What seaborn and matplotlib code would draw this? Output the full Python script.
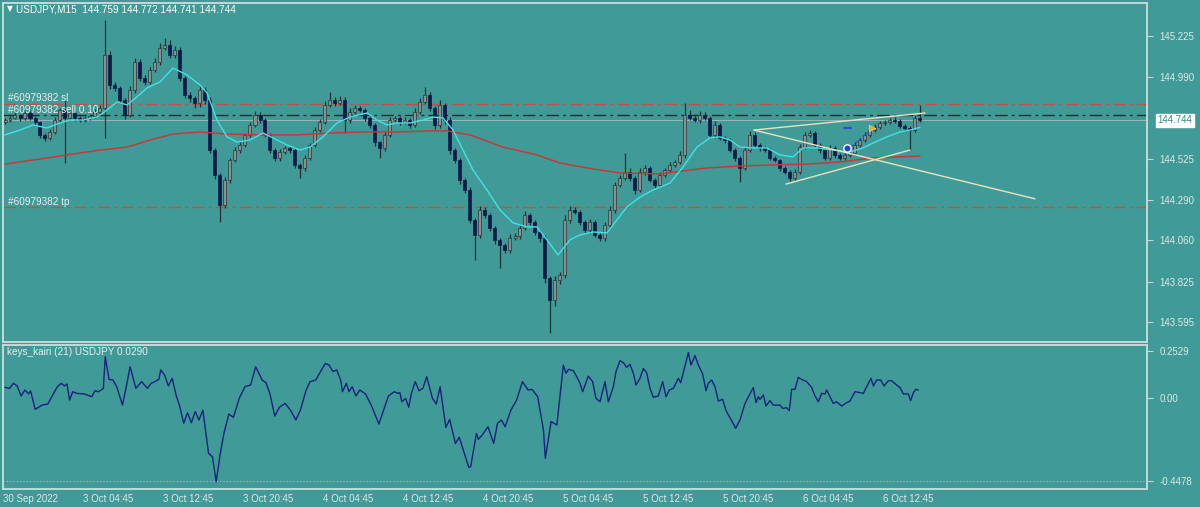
import numpy as np
import pandas as pd
import matplotlib
matplotlib.use("Agg")
import matplotlib.pyplot as plt
import seaborn as sns

# ---------------- data ----------------
open_first = 144.735
closes = [
    144.746, 144.758, 144.775, 144.758, 144.786, 144.758, 144.735, 144.661, 144.644, 144.678, 144.746, 144.803, 144.758, 144.786, 144.758, 144.746,
    144.758, 144.769, 144.792, 144.815, 145.117, 144.946, 144.929, 144.860, 144.775, 144.917, 145.077, 144.986, 144.963, 145.031, 145.077, 145.157,
    145.174, 145.117, 145.145, 144.986, 144.889, 144.872, 144.843, 144.917, 144.860, 144.575, 144.433, 144.262, 144.404, 144.518, 144.575, 144.604,
    144.661, 144.718, 144.775, 144.746, 144.661, 144.575, 144.530, 144.564, 144.587, 144.575, 144.490, 144.473, 144.530, 144.604, 144.689, 144.735,
    144.832, 144.860, 144.843, 144.860, 144.746, 144.792, 144.815, 144.803, 144.758, 144.718, 144.621, 144.587, 144.661, 144.746, 144.758, 144.735,
    144.746, 144.718, 144.792, 144.849, 144.889, 144.815, 144.718, 144.832, 144.746, 144.575, 144.518, 144.404, 144.347, 144.177, 144.091, 144.234,
    144.205, 144.131, 144.063, 144.034, 144.006, 144.074, 144.085, 144.131, 144.205, 144.165, 144.108, 144.074, 143.846, 143.721, 143.835, 143.863,
    144.177, 144.234, 144.222, 144.165, 144.120, 144.165, 144.091, 144.074, 144.148, 144.234, 144.376, 144.416, 144.450, 144.416, 144.347, 144.450,
    144.473, 144.404, 144.376, 144.433, 144.461, 144.490, 144.507, 144.547, 144.775, 144.758, 144.746, 144.775, 144.758, 144.661, 144.718, 144.644,
    144.632, 144.575, 144.530, 144.473, 144.575, 144.661, 144.604, 144.587, 144.575, 144.530, 144.518, 144.473, 144.450, 144.416, 144.450, 144.592,
    144.661, 144.672, 144.604, 144.575, 144.530, 144.587, 144.547, 144.530, 144.547, 144.558, 144.604, 144.632, 144.661, 144.689, 144.706, 144.729,
    144.735, 144.746, 144.741, 144.712, 144.701, 144.689, 144.758, 144.744,
]
upper_wick = [
    0.012, 0.010, 0.015, 0.008, 0.018, 0.010, 0.012, 0.008, 0.010, 0.015, 0.020, 0.012, 0.057, 0.015, 0.010, 0.012,
    0.010, 0.012, 0.015, 0.018, 0.199, 0.020, 0.015, 0.012, 0.010, 0.025, 0.020, 0.015, 0.018, 0.020, 0.025, 0.030,
    0.040, 0.030, 0.025, 0.015, 0.012, 0.015, 0.010, 0.025, 0.015, 0.020, 0.012, 0.010, 0.015, 0.012, 0.018, 0.015,
    0.012, 0.015, 0.020, 0.015, 0.010, 0.012, 0.010, 0.015, 0.012, 0.010, 0.012, 0.010, 0.015, 0.012, 0.020, 0.015,
    0.025, 0.046, 0.020, 0.025, 0.015, 0.020, 0.015, 0.012, 0.010, 0.012, 0.010, 0.008, 0.015, 0.018, 0.012, 0.010,
    0.015, 0.012, 0.020, 0.025, 0.045, 0.015, 0.010, 0.030, 0.012, 0.015, 0.010, 0.012, 0.010, 0.015, 0.012, 0.020,
    0.015, 0.010, 0.012, 0.010, 0.012, 0.020, 0.015, 0.018, 0.025, 0.012, 0.010, 0.012, 0.015, 0.010, 0.020, 0.015,
    0.025, 0.020, 0.015, 0.012, 0.010, 0.015, 0.010, 0.012, 0.015, 0.020, 0.018, 0.015, 0.108, 0.020, 0.012, 0.020,
    0.015, 0.012, 0.010, 0.015, 0.012, 0.015, 0.012, 0.020, 0.068, 0.030, 0.020, 0.025, 0.015, 0.012, 0.020, 0.012,
    0.010, 0.012, 0.010, 0.012, 0.020, 0.025, 0.015, 0.012, 0.010, 0.012, 0.010, 0.008, 0.010, 0.012, 0.015, 0.020,
    0.018, 0.020, 0.012, 0.010, 0.012, 0.015, 0.010, 0.012, 0.010, 0.012, 0.015, 0.012, 0.015, 0.012, 0.015, 0.012,
    0.010, 0.012, 0.015, 0.010, 0.012, 0.010, 0.015, 0.074,
]
lower_wick = [
    0.010, 0.012, 0.008, 0.015, 0.010, 0.012, 0.015, 0.020, 0.015, 0.010, 0.012, 0.010, 0.257, 0.012, 0.015, 0.010,
    0.012, 0.010, 0.012, 0.015, 0.171, 0.025, 0.020, 0.015, 0.025, 0.012, 0.015, 0.020, 0.015, 0.012, 0.010, 0.015,
    0.012, 0.015, 0.020, 0.015, 0.020, 0.025, 0.030, 0.020, 0.025, 0.015, 0.025, 0.097, 0.020, 0.015, 0.012, 0.015,
    0.010, 0.012, 0.010, 0.015, 0.012, 0.015, 0.020, 0.015, 0.012, 0.015, 0.020, 0.057, 0.015, 0.012, 0.010, 0.012,
    0.010, 0.012, 0.015, 0.012, 0.074, 0.015, 0.010, 0.012, 0.015, 0.020, 0.025, 0.057, 0.015, 0.012, 0.010, 0.015,
    0.012, 0.015, 0.010, 0.012, 0.010, 0.020, 0.025, 0.015, 0.020, 0.025, 0.015, 0.020, 0.015, 0.020, 0.142, 0.015,
    0.020, 0.015, 0.025, 0.131, 0.020, 0.015, 0.012, 0.015, 0.012, 0.015, 0.020, 0.025, 0.030, 0.188, 0.035, 0.025,
    0.020, 0.015, 0.012, 0.015, 0.020, 0.015, 0.012, 0.020, 0.015, 0.012, 0.015, 0.012, 0.010, 0.015, 0.020, 0.012,
    0.015, 0.012, 0.015, 0.012, 0.010, 0.012, 0.010, 0.012, 0.015, 0.012, 0.010, 0.015, 0.012, 0.010, 0.015, 0.012,
    0.015, 0.012, 0.015, 0.080, 0.012, 0.010, 0.012, 0.015, 0.012, 0.010, 0.012, 0.015, 0.010, 0.015, 0.012, 0.010,
    0.012, 0.010, 0.012, 0.015, 0.012, 0.010, 0.015, 0.012, 0.010, 0.012, 0.010, 0.012, 0.010, 0.012, 0.010, 0.012,
    0.010, 0.012, 0.010, 0.012, 0.015, 0.114, 0.010, 0.012,
]

# moving averages (bar position, price)
ma21_pos = [0, 3, 5.6, 8.4, 11, 13, 15.6, 18.4, 20.4, 22.4, 24.4, 26.4, 28.4, 31, 33.6, 36.4, 39, 40.4, 42.4, 44.4,
            46.4, 49, 51.6, 53.6, 56.4, 59, 61, 63.6, 66.4, 69, 72.4, 74.4, 76.4, 78.4, 81, 83.6, 85.6, 87.6, 89.6,
            91.6, 93.6, 96.4, 99, 101.6, 104.4, 106.4, 108.4, 110.6, 113, 115, 117.6, 120.4, 122.4, 124.4, 127,
            129.6, 133, 135.6, 138.4, 141, 143, 145, 147, 149.6, 152.4, 155, 157.6, 159.6, 162.4, 165.6, 169,
            171.6, 173.6, 176.4, 179, 181, 183]
ma21_val = [144.661, 144.689, 144.718, 144.701, 144.729, 144.746, 144.746, 144.763, 144.803, 144.849, 144.832,
            144.878, 144.929, 144.963, 145.042, 145.003, 144.946, 144.900, 144.746, 144.650, 144.621, 144.632,
            144.672, 144.644, 144.604, 144.575, 144.592, 144.650, 144.729, 144.763, 144.786, 144.746, 144.718,
            144.729, 144.729, 144.746, 144.763, 144.758, 144.689, 144.575, 144.461, 144.347, 144.234, 144.160,
            144.137, 144.137, 144.063, 143.977, 144.063, 144.091, 144.108, 144.103, 144.177, 144.251, 144.307,
            144.347, 144.387, 144.478, 144.592, 144.644, 144.650, 144.632, 144.592, 144.587, 144.587, 144.547,
            144.536, 144.587, 144.587, 144.575, 144.564, 144.587, 144.615, 144.650, 144.678, 144.689, 144.704]
ma200_pos = [0, 5.6, 12.4, 19, 24.4, 29, 33.6, 39, 44.4, 51.6, 58.4, 65, 71.6, 78.4, 85, 88.4, 93, 99.6, 106.4,
             111, 116.4, 123, 131, 140.4, 147, 153.6, 160.4, 167, 173.6, 183]
ma200_val = [144.495, 144.518, 144.547, 144.575, 144.592, 144.632, 144.666, 144.678, 144.666, 144.661, 144.661,
             144.672, 144.678, 144.678, 144.684, 144.684, 144.661, 144.592, 144.547, 144.501, 144.473, 144.444,
             144.439, 144.473, 144.484, 144.490, 144.495, 144.507, 144.530, 144.541]

# keys_kairi(21) indicator (bar position, value)
kairi_pos = [0, 0.91, 1.68, 2.44, 3.21, 3.98, 4.74, 5.12, 6.04, 7.42, 8.57, 9.72, 10.48, 11.25, 11.86, 12.39, 12.93,
             13.54, 14.31, 15.84, 17.37, 17.98, 18.75, 19.67, 20.05, 20.81, 21.58, 22.34, 23.49, 24.26, 25.02, 26.17,
             27.32, 28.47, 29.23, 30.00, 30.76, 31.15, 31.91, 32.68, 33.44, 34.21, 34.97, 35.74, 36.50, 37.27, 38.04,
             38.80, 39.57, 40.71, 41.48, 42.24, 43.01, 43.78, 44.77, 45.69, 46.84, 47.99, 49.13, 50.13, 51.43, 52.20,
             52.96, 53.96, 54.87, 56.02, 57.17, 58.17, 59.08, 60.23, 61.00, 62.15, 62.91, 64.06, 64.82, 65.59, 66.35,
             67.12, 67.50, 68.27, 68.80, 69.42, 70.18, 70.95, 72.10, 73.24, 74.39, 74.78, 75.54, 76.69, 77.84, 78.60,
             78.98, 79.37, 80.13, 80.75, 81.28, 82.05, 82.81, 83.58, 84.34, 85.49, 86.26, 87.02, 88.17, 88.94, 90.08,
             90.85, 92.76, 93.14, 94.29, 94.68, 95.44, 96.59, 97.74, 98.50, 99.27, 100.03, 101.18, 102.33, 103.48,
             104.63, 105.39, 106.54, 107.69, 108.07, 109.22, 110.37, 111.67, 112.2, 112.67, 113.67, 114.33, 115.0,
             115.53, 116.67, 117.53, 118.2, 119.0, 120.0, 120.67, 121.67, 122.2, 123.0, 123.67, 124.33, 125.0,
             125.67, 126.2, 127.0, 127.67, 128.33, 129.0, 129.67, 130.67, 131.53, 132.2, 132.87, 133.67, 134.67,
             135.13, 135.8, 136.67, 137.2, 138.0, 138.67, 139.53, 140.2, 140.67, 141.33, 142.0, 142.67, 143.53,
             144.2, 145.33, 146.13, 147.0, 148.0, 148.87, 149.67, 150.2, 150.67, 151.0, 151.67, 152.2, 153.0,
             153.67, 155.0, 155.53, 156.33, 156.87, 157.33, 158.0, 158.67, 159.33, 160.33, 161.33, 162.0, 162.67,
             163.33, 164.0, 164.33, 165.0, 165.67, 166.33, 167.33, 168.33, 169.0, 170.0, 171.0, 171.67, 172.33,
             173.2, 173.67, 174.33, 175.13, 175.8, 176.67, 177.33, 178.33, 179.0, 179.67, 180.67, 181.13, 181.67,
             182.2, 182.67]
kairi_val = [0.057, 0.052, 0.079, 0.065, 0.011, 0.043, 0.022, 0.038, -0.061, -0.038, -0.032, 0.025, 0.061, 0.079,
             0.065, 0.075, -0.011, 0.034, 0.025, 0.022, 0.007, 0.039, 0.034, 0.052, 0.222, 0.100, 0.097, 0.061,
             -0.038, 0.061, 0.168, 0.052, 0.088, 0.052, 0.079, 0.088, 0.100, 0.151, 0.124, 0.065, 0.106, 0.016,
             -0.047, -0.136, -0.079, -0.133, -0.073, -0.118, -0.065, -0.297, -0.315, -0.450, -0.306, -0.190,
             -0.086, -0.104, -0.002, 0.061, 0.070, 0.168, 0.097, 0.082, 0.025, -0.097, -0.050, -0.029, -0.068,
             -0.118, -0.065, 0.043, 0.088, 0.097, 0.133, 0.186, 0.177, 0.142, 0.151, 0.097, 0.034, 0.079, 0.034,
             0.061, 0.011, 0.043, 0.022, -0.038, -0.115, -0.140, -0.079, 0.011, 0.034, 0.025, 0.029, -0.020,
             -0.002, -0.050, 0.025, 0.088, 0.039, 0.052, 0.115, -0.002, -0.032, 0.061, -0.158, -0.115, -0.244,
             -0.211, -0.373, -0.369, -0.190, -0.222, -0.199, -0.154, -0.244, -0.136, -0.118, -0.154, -0.065,
             -0.011, 0.088, 0.043, 0.047, 0.007, -0.172, -0.324, -0.127, -0.145, 0.177, 0.133, 0.154, 0.147,
             0.115, 0.079, 0.034, 0.118, 0.088, -0.002, -0.020, 0.088, -0.020, 0.061, 0.142, 0.201, 0.190, 0.165,
             0.181, 0.133, 0.070, 0.106, 0.159, 0.136, 0.052, 0.004, 0.011, 0.088, 0.007, 0.043, 0.052, 0.106,
             0.082, 0.151, 0.244, 0.177, 0.228, 0.177, 0.129, 0.039, 0.079, 0.097, 0.061, -0.016, -0.007, -0.068,
             -0.122, -0.163, -0.118, -0.029, 0.016, 0.056, -0.025, 0.007, -0.007, 0.016, -0.043, -0.014, -0.038,
             -0.038, -0.056, -0.052, -0.068, 0.047, 0.047, 0.111, 0.100, 0.088, 0.057, 0.011, -0.020, 0.025,
             0.022, 0.043, 0.007, -0.029, -0.020, -0.043, -0.025, -0.016, 0.034, 0.029, 0.025, 0.061, 0.106,
             0.065, 0.097, 0.097, 0.065, 0.093, 0.093, 0.070, 0.056, 0.022, 0.022, -0.014, 0.029, 0.047, 0.043]

# order levels
sl_price = 144.840
entry_price = 144.772
tp_price = 144.250
bid_price = 144.744

# drawn trend lines (bar position, price)
tl_upper_pos = [149.8, 184.0]
tl_upper_val = [144.689, 144.786]
tl_down_pos = [149.8, 206.0]
tl_down_val = [144.689, 144.297]
tl_lower_pos = [156.2, 181.0]
tl_lower_val = [144.381, 144.575]

# trade marks
trade_path_pos = [169.4, 173.6]
trade_path_val = [144.598, 144.701]

price_ticks = [145.225, 144.990, 144.525, 144.290, 144.060, 143.825, 143.595]
kairi_ticks = [0.2529, 0.0, -0.4478]
kairi_tick_labels = ["0.2529", "0.00", "-0.4478"]
time_labels = ["30 Sep 2022", "3 Oct 04:45", "3 Oct 12:45", "3 Oct 20:45", "4 Oct 04:45", "4 Oct 12:45",
               "4 Oct 20:45", "5 Oct 04:45", "5 Oct 12:45", "5 Oct 20:45", "6 Oct 04:45", "6 Oct 12:45"]
bars_per_label = 16

# ---------------- style ----------------
BG = "#409a97"
LIGHT = "#dde9e8"
FRAME = "#c3d9d7"
sns.set_theme(style="white")
plt.rcParams['font.family'] = ['Liberation Sans', 'DejaVu Sans']
plt.rcParams['font.size'] = 7

W, H = 1200, 507
fig = plt.figure(figsize=(W / 100, H / 100), dpi=100, facecolor=BG)
ax = fig.add_axes([3 / W, 1 - 342 / H, 1144 / W, 339 / H], facecolor=BG)
ax2 = fig.add_axes([3 / W, 1 - 489 / H, 1144 / W, 144 / H], facecolor=BG)

# ---------------- candles ----------------
c = np.array(closes)
o = np.concatenate([[open_first], c[:-1]])
hi = np.maximum(o, c) + np.array(upper_wick)
lo = np.minimum(o, c) - np.array(lower_wick)
x = np.arange(len(c))
bull = c >= o
bottoms = np.minimum(o, c)
heights = np.maximum(np.abs(c - o), 0.003)

ax.vlines(x, lo, hi, color="#223232", lw=0.9, zorder=2)
ax.bar(x[bull], heights[bull], bottom=bottoms[bull], width=0.6, color="#8a8f8f",
       edgecolor="#2a3838", lw=0.5, zorder=3)
ax.bar(x[~bull], heights[~bull], bottom=bottoms[~bull], width=0.6, color="#0c1a48",
       edgecolor="#0c1a48", lw=0.5, zorder=3)

# moving averages
sns.lineplot(x=ma200_pos, y=ma200_val, ax=ax, color="#c8383a", lw=1.1, estimator=None, sort=False, zorder=4)
sns.lineplot(x=ma21_pos, y=ma21_val, ax=ax, color="#3fe3e6", lw=1.0, estimator=None, sort=False, zorder=4)

# order lines
dashdot = (0, (9, 3, 2, 3))
ax.axhline(sl_price, color="#cf4a3c", lw=1.0, ls=dashdot, zorder=1)
ax.axhline(entry_price, color="#1c2f2f", lw=1.0, ls=dashdot, zorder=1)
ax.axhline(tp_price, color="#cf4a3c", lw=1.0, ls=dashdot, zorder=1)
ax.axhline(bid_price, color="#9fb4b4", lw=0.7, zorder=1)

lab_kw = dict(xycoords=('axes fraction', 'data'), textcoords='offset points', va='bottom', ha='left',
              fontsize=7.2, color="#e8eeee", zorder=6)
ax.annotate("#60979382 sl", xy=(0.0045, sl_price), xytext=(0, 0.3), **lab_kw)
ax.annotate("#60979382 sell 0.10", xy=(0.0045, entry_price), xytext=(0, 0.3), **lab_kw)
ax.annotate("#60979382 tp", xy=(0.0045, tp_price), xytext=(0, 0.3), **lab_kw)

# trend lines
for px, py in [(tl_upper_pos, tl_upper_val), (tl_down_pos, tl_down_val), (tl_lower_pos, tl_lower_val)]:
    sns.lineplot(x=px, y=py, ax=ax, color="#e9e3bd", lw=1.0, estimator=None, sort=False, zorder=5)

# trade marks
ax.plot(trade_path_pos, trade_path_val, color="#2f47e0", lw=1.0, ls=(0, (1.5, 2)), zorder=6)
ax.plot([167.9, 169.2], [144.701, 144.701], color="#2f47e0", lw=1.4, zorder=6)
ax.scatter([168.4], [144.587], s=28, color="#2a3fd8", edgecolor="white", lw=1.0, zorder=7)
ax.scatter([173.4], [144.701], s=22, marker=">", color="#f2a52a", edgecolor="#f7d080", lw=0.5, zorder=7)

# axes limits
xlim = (-0.4, 228.4)
ax.set_xlim(*xlim)
ax.set_ylim(143.481, 145.413)
ax2.set_xlim(*xlim)
ax2.set_ylim(-0.489, 0.285)

# ---------------- kairi pane ----------------
sns.lineplot(x=kairi_pos, y=kairi_val, ax=ax2, color="#17237c", lw=1.0, estimator=None, sort=False, zorder=3)
ax2.axhline(kairi_ticks[-1], color="#a9c2c0", lw=0.8, ls=(0, (1, 2)), zorder=1)

# ---------------- axes styling ----------------
for a in (ax, ax2):
    a.grid(False)
    for s in a.spines.values():
        s.set_color(FRAME)
        s.set_linewidth(1.4)
    a.set_xlabel("")
    a.set_ylabel("")
    a.yaxis.tick_right()
    a.tick_params(axis='y', which='both', direction='out', length=4, width=0.8, colors=FRAME,
                  labelcolor=LIGHT, labelsize=7, pad=5, left=False, right=True)

ax.set_yticks(price_ticks)
ax.set_yticklabels([f"{t:.3f}" for t in price_ticks])
ax.set_xticks([])

ax2.set_yticks(kairi_ticks)
ax2.set_yticklabels(kairi_tick_labels)

tick_pos = np.arange(len(time_labels)) * bars_per_label + xlim[0]
ax2.set_xticks(tick_pos)
ax2.set_xticklabels(time_labels)
ax2.tick_params(axis='x', direction='out', length=3, width=0.8, colors=FRAME, labelcolor=LIGHT,
                labelsize=7, pad=0.5)
for lbl in ax2.get_xticklabels():
    lbl.set_ha('left')

# current price box
ax.annotate(f"{bid_price:.3f}", xy=(1.0, bid_price), xycoords=('axes fraction', 'data'), xytext=(7.5, 0),
            textcoords='offset points', va='center', ha='left', fontsize=7, color="#3b8a87",
            bbox=dict(boxstyle='square,pad=0.18', fc='white', ec='white'), annotation_clip=False, zorder=10)

# header texts
fig.text(7 / W, 1 - 9 / H, "▼", fontsize=5.5, color="white", va='center', ha='left',
         family=['DejaVu Sans'])
fig.text(16 / W, 1 - 9 / H, "USDJPY,M15  144.759 144.772 144.741 144.744", fontsize=7.2,
         color="white", va='center', ha='left')
fig.text(7 / W, 1 - 352 / H, "keys_kairi (21) USDJPY 0.0290", fontsize=7.2, color="#e8eeee",
         va='center', ha='left')

fig.savefig("out.png", dpi=100, facecolor=BG)
